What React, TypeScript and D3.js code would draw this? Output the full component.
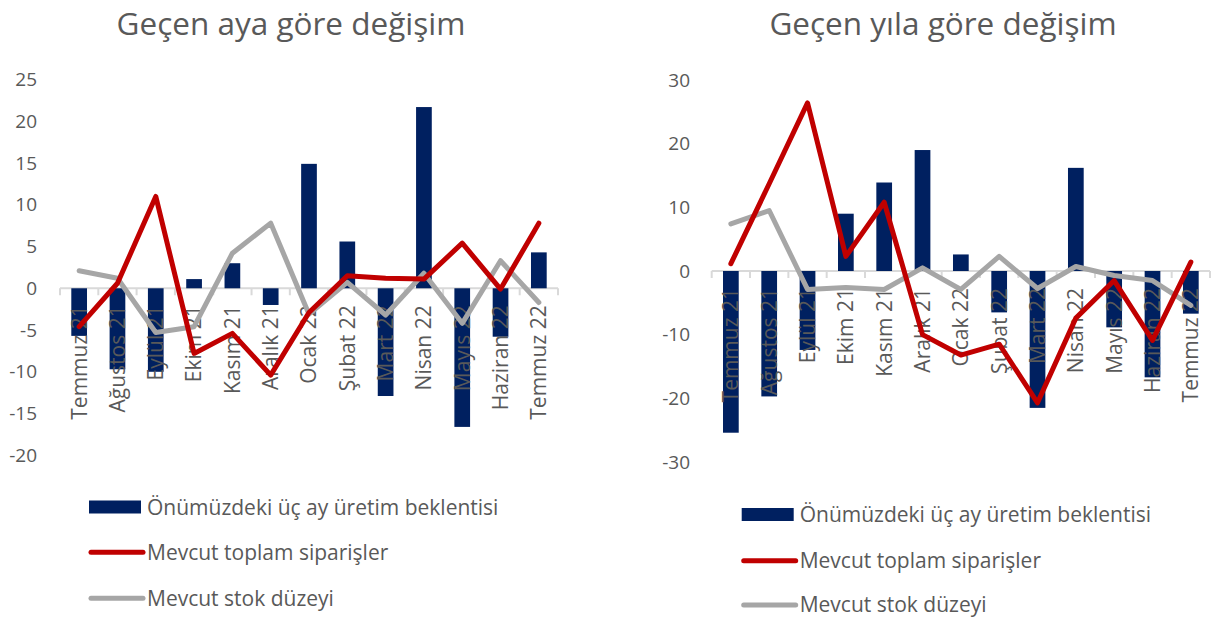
import React from "react";
import * as d3 from "d3";

const categories = [
  "Temmuz 21", "Ağustos 21", "Eylül 21", "Ekim 21", "Kasım 21", "Aralık 21",
  "Ocak 22", "Şubat 22", "Mart 22", "Nisan 22", "Mayıs 22", "Haziran 22", "Temmuz 22",
];

const seriesNames = [
  "Önümüzdeki üç ay üretim beklentisi",
  "Mevcut toplam siparişler",
  "Mevcut stok düzeyi",
];

// Left chart: Geçen aya göre değişim
const monthlyProduction = [-5.7, -9.7, -10.0, 1.1, 3.0, -2.0, 14.9, 5.6, -12.9, 21.7, -16.6, -5.8, 4.3];
const monthlyOrders = [-4.6, 0.6, 11.0, -7.8, -5.4, -10.4, -2.9, 1.5, 1.2, 1.1, 5.4, -0.1, 7.8];
const monthlyStock = [2.1, 1.2, -5.3, -4.6, 4.2, 7.8, -3.1, 0.7, -3.2, 1.8, -4.2, 3.3, -1.7];
const monthlyTicks = [25, 20, 15, 10, 5, 0, -5, -10, -15, -20];

// Right chart: Geçen yıla göre değişim
const yearlyProduction = [-25.4, -19.7, -12.4, 9.0, 13.9, 19.0, 2.6, -6.5, -21.5, 16.2, -8.85, -16.7, -6.7];
const yearlyOrders = [1.15, 13.7, 26.4, 2.3, 10.8, -10.0, -13.2, -11.5, -20.7, -7.4, -1.5, -10.9, 1.4];
const yearlyStock = [7.4, 9.5, -2.9, -2.6, -2.9, 0.5, -2.9, 2.3, -2.75, 0.7, -0.7, -1.5, -5.4];
const yearlyTicks = [30, 20, 10, 0, -10, -20, -30];

const NAVY = "#002060";
const RED = "#C00000";
const GRAY = "#A6A6A6";
const TEXT = "#595959";
const AXIS = "#D9D9D9";
const FONT = "'Open Sans', sans-serif";

type PanelProps = {
  title: string;
  titleX: number;
  x0: number;
  x1: number;
  yDomain: [number, number];
  yRange: [number, number];
  ticks: number[];
  tickRight: number;
  bars: number[];
  orders: number[];
  stock: number[];
  legendX: number;
  legendY: number[];
};

function Panel(p: PanelProps) {
  const x = d3.scaleBand<string>().domain(categories).range([p.x0, p.x1]).padding(0);
  const y = d3.scaleLinear().domain(p.yDomain).range(p.yRange);
  const bw = x.bandwidth();
  const barW = bw * 0.41;
  const cx = (c: string) => (x(c) as number) + bw / 2;
  const line = d3
    .line<number>()
    .x((_, i) => cx(categories[i]))
    .y((d) => y(d));
  const y0 = y(0);
  const boundaries = categories.map((c) => x(c) as number).concat([p.x1]);
  return (
    <g>
      <text x={p.titleX} y={35} textAnchor="middle" fontSize={31.5} fill={TEXT} fontFamily={FONT}>
        {p.title}
      </text>
      {p.ticks.map((t) => (
        <text key={t} x={p.tickRight} y={y(t)} dy="0.35em" textAnchor="end" fontSize={19} fill={TEXT} fontFamily={FONT}>
          {t}
        </text>
      ))}
      <line x1={p.x0} x2={p.x1} y1={y0} y2={y0} stroke={AXIS} strokeWidth={2} />
      {boundaries.map((b, i) => (
        <line key={i} x1={b} x2={b} y1={y0} y2={y0 + 7} stroke={AXIS} strokeWidth={2} />
      ))}
      {p.bars.map((v, i) => (
        <rect
          key={i}
          x={cx(categories[i]) - barW / 2}
          y={Math.min(y(v), y0)}
          width={barW}
          height={Math.abs(y(v) - y0)}
          fill={NAVY}
        />
      ))}
      {categories.map((c) => (
        <text
          key={c}
          transform={`translate(${cx(c)},${y0 + 17}) rotate(-90)`}
          dy="0.35em"
          textAnchor="end"
          fontSize={21}
          fill={TEXT}
          fontFamily={FONT}
        >
          {c}
        </text>
      ))}
      <path d={line(p.stock) || ""} fill="none" stroke={GRAY} strokeWidth={5} strokeLinejoin="round" strokeLinecap="round" />
      <path d={line(p.orders) || ""} fill="none" stroke={RED} strokeWidth={5} strokeLinejoin="round" strokeLinecap="round" />
      {/* legend */}
      <rect x={p.legendX} y={p.legendY[0] - 7} width={52} height={13} fill={NAVY} />
      <line x1={p.legendX + 2} x2={p.legendX + 54} y1={p.legendY[1]} y2={p.legendY[1]} stroke={RED} strokeWidth={5} strokeLinecap="round" />
      <line x1={p.legendX + 2} x2={p.legendX + 54} y1={p.legendY[2]} y2={p.legendY[2]} stroke={GRAY} strokeWidth={5} strokeLinecap="round" />
      {seriesNames.map((s, i) => (
        <text key={s} x={p.legendX + 58} y={p.legendY[i]} dy="0.35em" fontSize={21} fill={TEXT} fontFamily={FONT}>
          {s}
        </text>
      ))}
    </g>
  );
}

export default function App() {
  return (
    <svg width={1211} height={619} style={{ position: "absolute", left: 0, top: 0, background: "#fff" }}>
      <rect width={1211} height={619} fill="#fff" />
      <Panel
        title="Geçen aya göre değişim"
        titleX={291}
        x0={60}
        x1={558}
        yDomain={[-20, 25]}
        yRange={[455.3, 79.5]}
        ticks={monthlyTicks}
        tickRight={37}
        bars={monthlyProduction}
        orders={monthlyOrders}
        stock={monthlyStock}
        legendX={89}
        legendY={[507.5, 552.3, 598.3]}
      />
      <Panel
        title="Geçen yıla göre değişim"
        titleX={943}
        x0={711.7}
        x1={1210}
        yDomain={[-30, 30]}
        yRange={[462, 80]}
        ticks={yearlyTicks}
        tickRight={690}
        bars={yearlyProduction}
        orders={yearlyOrders}
        stock={yearlyStock}
        legendX={741.7}
        legendY={[515, 560.7, 605]}
      />
    </svg>
  );
}
